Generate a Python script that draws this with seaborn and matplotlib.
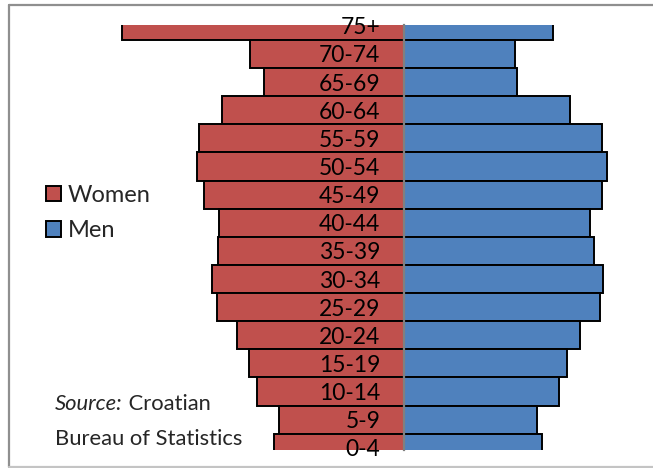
import matplotlib
matplotlib.use("Agg")
import matplotlib.pyplot as plt
from matplotlib.lines import Line2D
from matplotlib.patches import Patch
import pandas as pd
import seaborn as sns

# Population of Croatia by age group and sex (thousands)
age_groups = ["75+", "70-74", "65-69", "60-64", "55-59", "50-54", "45-49", "40-44",
              "35-39", "30-34", "25-29", "20-24", "15-19", "10-14", "5-9", "0-4"]
women = [226, 123, 112, 146, 164, 166, 160, 148, 149, 154, 150, 134, 124, 118, 100, 104]
men = [119, 89, 90, 133, 158, 162, 158, 149, 152, 159, 157, 141, 130, 124, 106, 110]
sexes = ["Women", "Men"]
colors = {"Women": "#C0504D", "Men": "#4F81BD"}

df = pd.concat([
    pd.DataFrame({"age": age_groups, "sex": "Women", "pop": [-v for v in women]}),
    pd.DataFrame({"age": age_groups, "sex": "Men", "pop": men}),
], ignore_index=True)

sns.set_theme(style="white")
plt.rcParams["font.family"] = ["Lato", "DejaVu Sans"]

W, H = 653, 468
fig = plt.figure(figsize=(W / 100, H / 100), dpi=100)
fig.patch.set_facecolor("white")

# outer chart border
fig.add_artist(Line2D([9 / W, 9 / W], [1 - 4.5 / H, 1 - 466.5 / H], color="#8f8f8f", lw=1.6))
fig.add_artist(Line2D([9 / W, 1.0], [1 - 4.5 / H, 1 - 4.5 / H], color="#8f8f8f", lw=1.6))
fig.add_artist(Line2D([9 / W, 1.0], [1 - 466.5 / H, 1 - 466.5 / H], color="#c4c4c4", lw=1.6))

ax_left, ax_right = 10, 653
ax_top, ax_bottom = 25, 449.5
ax = fig.add_axes([ax_left / W, 1 - ax_bottom / H, (ax_right - ax_left) / W, (ax_bottom - ax_top) / H])

sns.barplot(data=df, y="age", x="pop", hue="sex", hue_order=sexes, order=age_groups,
            orient="h", dodge=False, palette=colors, saturation=1, width=1.0,
            edgecolor="black", linewidth=1.4, legend=False, ax=ax)

k = 0.8  # thousands per pixel
ax.set_xlim((ax_left - 404) * k, (ax_right - 404) * k)
ax.set_ylim(15.06, -0.03)
ax.set_xlabel("")
ax.set_ylabel("")
ax.set_xticks([])
ax.set_axisbelow(False)
for s in ["top", "right", "bottom"]:
    ax.spines[s].set_visible(False)
ax.spines["left"].set_position(("data", 0))
ax.spines["left"].set_color("#808080")
ax.spines["left"].set_linewidth(1.6)
ax.spines["left"].set_zorder(5)
ax.yaxis.set_zorder(6)
ax.tick_params(axis="y", length=0, pad=17, labelsize=16.5, labelcolor="black")
ax.set_facecolor("none")

handles = [Patch(facecolor=colors[s], edgecolor="black", linewidth=1.4) for s in sexes]
fig.legend(handles, sexes, loc="upper left", bbox_to_anchor=(46 / W, 1 - 185 / H),
           frameon=False, fontsize=17, handlelength=0.62, handleheight=0.62,
           handletextpad=0.3, labelspacing=0.6, borderpad=0, borderaxespad=0)

t1 = fig.text(55 / W, 1 - 410 / H, "Source:", fontsize=15.8, style="italic", va="baseline", ha="left")
fig.text(55 / W, 1 - 445 / H, "Bureau of Statistics", fontsize=15.8, va="baseline", ha="left")
ax.annotate(" Croatian", xy=(1, 0), xycoords=t1, fontsize=15.8, va="bottom", ha="left",
            annotation_clip=False)

fig.savefig("out.png", dpi=100)
